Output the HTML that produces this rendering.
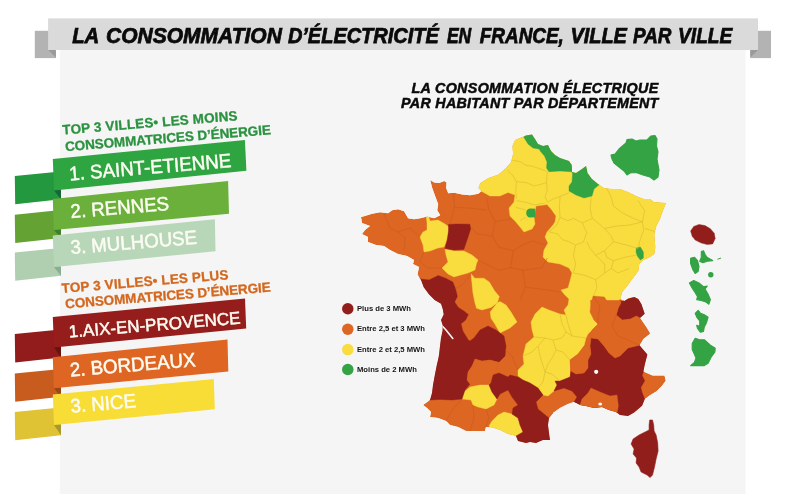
<!DOCTYPE html>
<html lang="fr"><head><meta charset="utf-8"><title>La consommation d’électricité en France, ville par ville</title>
<style>
html,body{margin:0;padding:0;background:#fff;}
body{width:800px;height:494px;overflow:hidden;font-family:"Liberation Sans",sans-serif;}
svg{display:block;}
svg text{font-family:"Liberation Sans",sans-serif;}
</style></head><body>
<svg width="800" height="494" viewBox="0 0 800 494">
<rect width="800" height="494" fill="#ffffff"/>
<rect x="59.8" y="49" width="685.7" height="445" fill="#f5f5f5"/>
<!-- title banner -->
<rect x="34.8" y="30.8" width="21.1" height="27.3" fill="#b3b3b3"/>
<polygon points="48.1,50 55.9,50 55.9,57.6" fill="#9a9a9a"/>
<rect x="750.3" y="30.8" width="20.7" height="27.3" fill="#b3b3b3"/>
<polygon points="758,50 750.3,50 750.3,57.6" fill="#9a9a9a"/>
<rect x="48.1" y="18.4" width="709.9" height="31.6" fill="#dadada"/>
<text y="42.9" font-size="21.3" font-weight="bold" font-style="italic" fill="#0a0a0a" stroke="#0a0a0a" stroke-width="0.75"><tspan x="72.2" textLength="26.3" lengthAdjust="spacingAndGlyphs">LA</tspan> <tspan x="106.0" textLength="175.9" lengthAdjust="spacingAndGlyphs">CONSOMMATION</tspan> <tspan x="287.9" textLength="150.9" lengthAdjust="spacingAndGlyphs">D’ÉLECTRICITÉ</tspan> <tspan x="446.9" textLength="24.3" lengthAdjust="spacingAndGlyphs">EN</tspan> <tspan x="479.8" textLength="84.0" lengthAdjust="spacingAndGlyphs">FRANCE,</tspan> <tspan x="570.4" textLength="56.5" lengthAdjust="spacingAndGlyphs">VILLE</tspan> <tspan x="633.0" textLength="38.4" lengthAdjust="spacingAndGlyphs">PAR</tspan> <tspan x="678.0" textLength="54.4" lengthAdjust="spacingAndGlyphs">VILLE</tspan></text>
<!-- map title -->
<g font-size="14.3" font-weight="bold" font-style="italic" fill="#0a0a0a" stroke="#0a0a0a" stroke-width="0.5" text-anchor="end" letter-spacing="0.28">
<text x="658.6" y="92.6" letter-spacing="0.34">LA CONSOMMATION ÉLECTRIQUE</text>
<text x="658.6" y="108">PAR HABITANT PAR DÉPARTEMENT</text>
</g>
<!-- least consuming cities -->
<g font-size="13.5" font-weight="bold" fill="#2b9240" stroke="#2b9240" stroke-width="0.3">
<text transform="translate(62.8 134.6) rotate(-4.7)" letter-spacing="0.15">TOP 3 VILLES• LES MOINS</text>
<text transform="translate(65.4 151.2) rotate(-4.7)" letter-spacing="-0.08">CONSOMMATRICES D’ÉNERGIE</text>
</g>
<polygon points="14.8,176.0 60.6,171.4 61.0,199.3 15.2,204.3" fill="#24983e"/>
<polygon points="53.7,190.0 61.0,189.7 61.0,199.3" fill="#17663a"/>
<polygon points="52.8,158.9 244.9,140.1 246.4,170.8 54.0,190.4" fill="#2ea541"/>
<text transform="translate(69.8 180.4) rotate(-4.7) scale(0.961,1)" font-size="19.5" fill="#fcfcf2" stroke="#fcfcf2" stroke-width="0.5">1. SAINT-ETIENNE</text>
<polygon points="14.8,214.7 60.6,210.1 61.0,238.0 15.2,243.0" fill="#64a234"/>
<polygon points="53.5,229.6 61.0,229.3 61.0,238.0" fill="#3f7f2a"/>
<polygon points="52.8,199.0 228.1,180.9 229.0,213.7 53.8,230.0" fill="#6ab03a"/>
<text transform="translate(71.0 218.1) rotate(-4.7) scale(0.961,1)" font-size="19.5" fill="#fcfcf2" stroke="#fcfcf2" stroke-width="0.5">2. RENNES</text>
<polygon points="14.8,252.5 60.6,247.9 61.0,275.8 15.2,280.8" fill="#b0ceb0"/>
<polygon points="53.7,266.7 61.0,266.4 61.0,275.8" fill="#8aae92"/>
<polygon points="52.8,235.6 214.9,219.3 215.5,251.3 54.0,267.1" fill="#b8d7b9"/>
<text transform="translate(71.0 254.1) rotate(-4.7) scale(0.961,1)" font-size="19.5" fill="#fcfcf2" stroke="#fcfcf2" stroke-width="0.5">3. MULHOUSE</text>
<!-- most consuming cities -->
<g font-size="13.5" font-weight="bold" fill="#d4681f" stroke="#d4681f" stroke-width="0.3">
<text transform="translate(62.0 293.0) rotate(-4.7)" letter-spacing="0.15">TOP 3 VILLES• LES PLUS</text>
<text transform="translate(65.6 308.5) rotate(-4.7)" letter-spacing="-0.1">CONSOMMATRICES D’ÉNERGIE</text>
</g>
<polygon points="14.8,334.1 60.6,329.5 61.0,357.4 15.2,362.4" fill="#911c1b"/>
<polygon points="53.7,347.1 61.0,346.8 61.0,357.4" fill="#69130f"/>
<polygon points="52.8,317.1 245.0,298.5 246.2,328.6 54.0,347.5" fill="#951e1d"/>
<text transform="translate(69.2 337.6) rotate(-4.7) scale(0.986,1)" font-size="17.3" fill="#fcfcf2" stroke="#fcfcf2" stroke-width="0.5">1.AIX-EN-PROVENCE</text>
<polygon points="14.8,373.5 60.6,368.9 61.0,396.8 15.2,401.8" fill="#c85c1e"/>
<polygon points="53.5,387.8 61.0,387.5 61.0,396.8" fill="#9a4718"/>
<polygon points="52.8,357.3 227.5,339.5 228.3,371.5 53.8,388.2" fill="#df6622"/>
<text transform="translate(70.4 376.5) rotate(-4.7) scale(0.961,1)" font-size="19.5" fill="#fcfcf2" stroke="#fcfcf2" stroke-width="0.5">2. BORDEAUX</text>
<polygon points="14.8,412.0 60.6,407.4 61.0,435.3 15.2,440.3" fill="#dfc334"/>
<polygon points="53.7,424.6 61.0,424.3 61.0,435.3" fill="#a8962e"/>
<polygon points="52.8,394.4 213.8,379.0 214.8,409.2 54.0,425.0" fill="#f9dd37"/>
<text transform="translate(71.0 412.7) rotate(-4.7) scale(0.961,1)" font-size="19.5" fill="#fcfcf2" stroke="#fcfcf2" stroke-width="0.5">3. NICE</text>
<!-- legend -->
<g font-size="7.65" font-weight="bold" fill="#151515">
<circle cx="347.8" cy="308.8" r="5.75" fill="#921e1b"/><text x="357" y="310.8">Plus de 3 MWh</text>
<circle cx="347.8" cy="329.2" r="5.75" fill="#dc6622"/><text x="357" y="331.2">Entre 2,5 et 3 MWh</text>
<circle cx="347.8" cy="349.6" r="5.75" fill="#f9dc3d"/><text x="357" y="351.6">Entre 2 et 2,5 MWh</text>
<circle cx="347.8" cy="369.5" r="5.75" fill="#33a343"/><text x="357" y="371.5">Moins de 2 MWh</text>
</g>
<!-- France map -->
<defs><clipPath id="fr"><polygon points="430.2,180.1 434.2,182.5 439.2,183.1 444.2,181.1 446.6,182.5 446.2,188.1 448.2,193.2 454.3,192.8 462.3,194.6 470.3,195.2 478.3,193.8 481.3,191.2 478.3,188.1 480.3,183.1 488.3,178.1 498.4,174.5 506.0,168.1 511.0,162.1 513.0,154.1 512.4,146.0 515.0,140.0 522.0,137.0 526.0,135.6 532.0,134.4 535.0,139.0 538.0,144.0 543.0,146.0 548.0,145.0 551.0,151.0 555.0,155.0 560.0,158.0 569.0,161.0 571.8,165.0 572.0,172.0 576.0,173.0 582.0,169.0 586.0,166.0 587.6,173.0 592.0,179.0 598.0,184.0 604.0,188.0 612.0,189.0 620.0,189.0 628.0,192.0 636.0,196.0 644.0,199.0 650.0,199.0 654.0,202.0 666.0,203.0 664.0,208.0 660.0,219.0 656.0,227.0 654.4,235.0 655.4,247.0 654.4,254.0 648.4,258.0 643.4,260.0 639.4,264.0 638.4,271.0 632.3,279.0 627.3,286.0 622.3,292.0 620.3,299.0 624.3,301.0 628.3,298.5 634.3,297.0 638.3,299.0 641.4,304.0 644.7,313.7 640.0,318.0 646.0,326.8 650.0,333.4 643.4,338.7 639.5,345.3 647.4,354.5 644.7,365.0 643.4,371.6 652.6,375.5 664.5,375.5 665.8,380.8 661.8,386.0 656.6,391.3 650.0,395.3 644.7,399.2 642.1,405.8 634.2,412.4 628.0,416.0 620.0,415.0 616.0,412.0 609.0,410.0 602.0,407.0 594.0,408.0 586.0,406.0 580.0,405.0 574.0,402.0 568.0,404.0 560.0,408.0 553.0,413.0 549.0,418.0 548.0,425.0 549.0,433.0 550.0,440.0 543.0,440.0 536.0,443.0 530.0,442.0 526.0,443.0 518.0,441.0 516.0,436.0 508.0,434.0 500.0,430.0 492.0,427.5 486.0,427.0 485.0,431.0 476.0,431.0 466.0,431.0 458.0,427.0 450.0,425.0 446.0,421.0 438.0,418.0 430.0,417.0 431.0,412.0 427.0,408.0 423.0,405.0 430.0,400.0 432.0,393.0 433.0,385.0 435.0,374.0 437.0,364.0 438.0,360.0 439.0,355.0 440.0,346.0 441.0,338.0 442.5,331.0 442.8,325.6 441.0,320.0 443.7,314.6 442.8,309.2 441.0,303.7 434.6,300.0 429.1,294.6 423.7,287.3 421.0,280.0 417.5,274.6 419.0,267.0 413.0,264.0 414.0,260.0 407.0,256.0 398.0,254.0 390.0,250.0 384.0,246.0 376.0,245.0 368.0,242.0 368.0,237.0 362.0,234.0 365.0,230.0 370.0,226.0 362.0,223.0 361.0,217.0 364.0,216.2 372.1,213.8 380.1,212.2 388.1,213.2 392.1,210.2 398.1,209.2 404.1,211.2 408.1,218.2 414.2,219.2 420.2,218.2 427.2,216.6 434.2,218.2 440.2,215.2 437.2,210.2 438.2,204.2 435.2,196.2 432.2,188.1"/></clipPath></defs>
<g clip-path="url(#fr)" stroke-linejoin="round">
<polygon points="430.2,180.1 434.2,182.5 439.2,183.1 444.2,181.1 446.6,182.5 446.2,188.1 448.2,193.2 454.3,192.8 462.3,194.6 470.3,195.2 478.3,193.8 481.3,191.2 478.3,188.1 480.3,183.1 488.3,178.1 498.4,174.5 506.0,168.1 511.0,162.1 513.0,154.1 512.4,146.0 515.0,140.0 522.0,137.0 526.0,135.6 532.0,134.4 535.0,139.0 538.0,144.0 543.0,146.0 548.0,145.0 551.0,151.0 555.0,155.0 560.0,158.0 569.0,161.0 571.8,165.0 572.0,172.0 576.0,173.0 582.0,169.0 586.0,166.0 587.6,173.0 592.0,179.0 598.0,184.0 604.0,188.0 612.0,189.0 620.0,189.0 628.0,192.0 636.0,196.0 644.0,199.0 650.0,199.0 654.0,202.0 666.0,203.0 664.0,208.0 660.0,219.0 656.0,227.0 654.4,235.0 655.4,247.0 654.4,254.0 648.4,258.0 643.4,260.0 639.4,264.0 638.4,271.0 632.3,279.0 627.3,286.0 622.3,292.0 620.3,299.0 624.3,301.0 628.3,298.5 634.3,297.0 638.3,299.0 641.4,304.0 644.7,313.7 640.0,318.0 646.0,326.8 650.0,333.4 643.4,338.7 639.5,345.3 647.4,354.5 644.7,365.0 643.4,371.6 652.6,375.5 664.5,375.5 665.8,380.8 661.8,386.0 656.6,391.3 650.0,395.3 644.7,399.2 642.1,405.8 634.2,412.4 628.0,416.0 620.0,415.0 616.0,412.0 609.0,410.0 602.0,407.0 594.0,408.0 586.0,406.0 580.0,405.0 574.0,402.0 568.0,404.0 560.0,408.0 553.0,413.0 549.0,418.0 548.0,425.0 549.0,433.0 550.0,440.0 543.0,440.0 536.0,443.0 530.0,442.0 526.0,443.0 518.0,441.0 516.0,436.0 508.0,434.0 500.0,430.0 492.0,427.5 486.0,427.0 485.0,431.0 476.0,431.0 466.0,431.0 458.0,427.0 450.0,425.0 446.0,421.0 438.0,418.0 430.0,417.0 431.0,412.0 427.0,408.0 423.0,405.0 430.0,400.0 432.0,393.0 433.0,385.0 435.0,374.0 437.0,364.0 438.0,360.0 439.0,355.0 440.0,346.0 441.0,338.0 442.5,331.0 442.8,325.6 441.0,320.0 443.7,314.6 442.8,309.2 441.0,303.7 434.6,300.0 429.1,294.6 423.7,287.3 421.0,280.0 417.5,274.6 419.0,267.0 413.0,264.0 414.0,260.0 407.0,256.0 398.0,254.0 390.0,250.0 384.0,246.0 376.0,245.0 368.0,242.0 368.0,237.0 362.0,234.0 365.0,230.0 370.0,226.0 362.0,223.0 361.0,217.0 364.0,216.2 372.1,213.8 380.1,212.2 388.1,213.2 392.1,210.2 398.1,209.2 404.1,211.2 408.1,218.2 414.2,219.2 420.2,218.2 427.2,216.6 434.2,218.2 440.2,215.2 437.2,210.2 438.2,204.2 435.2,196.2 432.2,188.1" fill="#dc6622"/>
<polygon points="476.0,186.0 481.3,191.2 490.0,196.0 500.0,196.0 508.0,192.5 515.0,195.0 514.0,202.0 509.0,208.0 510.0,216.0 515.0,221.0 520.0,227.0 524.0,232.0 532.0,229.0 535.0,224.0 534.0,217.0 536.0,206.0 547.0,204.6 551.0,209.0 556.0,216.0 555.0,222.0 553.0,225.0 547.0,232.0 545.0,237.0 548.0,243.0 544.0,250.0 543.0,257.0 548.0,262.0 560.0,264.0 569.0,268.0 572.0,273.0 570.0,281.0 568.0,288.0 561.0,290.0 564.0,294.0 569.0,299.0 568.0,305.0 564.0,310.0 566.0,315.0 560.0,314.0 549.0,310.0 542.0,307.0 535.0,314.0 531.0,322.0 532.0,330.0 534.0,337.0 526.0,344.0 523.0,356.0 524.0,364.0 518.0,370.0 518.0,376.0 523.0,380.0 530.0,383.0 538.0,388.0 543.0,395.0 548.0,396.0 554.0,391.0 557.0,385.0 555.0,381.0 560.0,381.0 570.0,377.0 570.0,370.0 570.0,360.0 578.0,354.0 584.0,346.0 586.0,338.0 588.0,334.0 592.0,330.0 598.0,324.0 594.0,320.0 591.0,308.0 590.0,300.0 640.0,300.0 680.0,260.0 680.0,120.0 500.0,120.0 470.0,180.0" fill="#f9dc3d" stroke="#f9dc3d" stroke-width="0.4"/>
<polygon points="428.0,214.0 430.0,221.0 438.0,220.0 445.0,224.0 449.0,227.0 448.0,237.0 444.0,247.0 438.0,248.0 430.0,251.0 424.0,252.0 423.0,245.0 420.0,237.0 423.0,232.0 427.0,230.0 427.0,223.0 426.0,214.0" fill="#f9dc3d" stroke="#f9dc3d" stroke-width="0.4"/>
<polygon points="445.0,249.0 454.0,251.0 464.0,251.0 472.0,255.0 478.0,260.0 476.5,263.6 475.0,270.0 468.0,273.0 459.0,275.5 454.0,277.0 448.0,274.0 442.0,268.0 448.0,262.0 446.0,255.0" fill="#f9dc3d" stroke="#f9dc3d" stroke-width="0.4"/>
<polygon points="471.0,273.7 474.7,278.2 483.8,278.2 489.3,281.9 494.7,291.0 499.3,296.4 497.4,302.8 491.1,307.4 482.0,310.0 476.5,308.3 474.7,301.9 472.9,292.8 472.0,283.7" fill="#f9dc3d" stroke="#f9dc3d" stroke-width="0.4"/>
<polygon points="500.0,301.5 506.0,305.0 511.0,312.0 517.0,322.0 510.0,328.0 500.0,333.0 494.7,323.8 491.0,318.3 490.2,311.9 493.0,308.3 497.4,302.8" fill="#f9dc3d" stroke="#f9dc3d" stroke-width="0.4"/>
<polygon points="462.0,399.0 464.0,392.0 470.0,387.0 480.0,385.0 489.0,385.0 492.0,392.0 497.0,399.0 494.0,405.0 486.0,409.0 478.0,407.0 473.0,405.0 471.0,400.0" fill="#f9dc3d" stroke="#f9dc3d" stroke-width="0.4"/>
<polygon points="489.0,426.0 492.0,421.0 498.0,415.0 504.0,412.0 512.0,414.0 518.0,418.0 520.0,425.0 523.0,432.0 516.0,438.0 508.0,436.0 500.0,432.0 492.0,429.5" fill="#f9dc3d" stroke="#f9dc3d" stroke-width="0.4"/>
<polygon points="448.5,224.5 456.0,224.0 469.8,224.2 470.6,229.0 467.4,239.0 463.8,249.5 454.0,250.0 445.0,248.5 447.0,241.0 448.5,231.0" fill="#921e1b" stroke="#921e1b" stroke-width="0.4"/>
<polygon points="410.0,270.0 421.0,279.0 429.0,280.0 438.3,275.5 445.5,278.2 452.8,281.9 455.6,289.1 457.4,296.4 454.6,301.9 458.3,307.4 463.8,311.0 468.3,314.6 465.6,320.1 461.0,323.8 462.8,331.0 468.3,340.1 470.0,341.0 474.0,338.0 480.0,330.0 488.0,326.0 496.0,330.0 504.0,336.0 506.0,346.0 505.0,356.0 499.0,362.0 490.0,360.0 482.0,361.0 475.0,359.0 472.0,366.0 468.0,372.0 467.0,380.0 470.0,384.0 465.0,390.0 462.0,399.0 452.0,400.0 440.0,399.4 430.0,400.0 420.0,402.0 420.0,300.0" fill="#921e1b" stroke="#921e1b" stroke-width="0.4"/>
<polygon points="493.0,375.0 499.0,373.0 508.0,377.0 510.0,375.0 518.0,377.0 523.0,380.0 530.0,383.0 538.0,388.0 543.0,395.0 536.0,402.0 538.0,409.0 544.0,414.0 549.0,418.0 553.0,413.0 560.0,450.0 515.0,450.0 516.0,436.0 523.0,432.0 520.0,425.0 518.0,418.0 512.0,414.0 513.0,408.0 518.0,405.0 512.0,397.0 508.0,390.0 500.0,394.0 497.0,399.0 492.0,392.0 489.0,385.0 491.0,383.0" fill="#921e1b" stroke="#921e1b" stroke-width="0.4"/>
<polygon points="591.0,338.0 598.0,339.0 604.0,346.0 609.0,353.0 615.0,358.0 620.0,356.0 628.0,348.0 640.0,345.0 660.0,345.0 660.0,371.0 643.4,371.6 642.1,375.5 644.7,380.8 640.8,387.4 642.1,392.6 644.7,399.2 650.0,420.0 600.0,420.0 580.0,405.0 574.0,402.0 577.0,397.0 572.0,391.0 564.0,388.0 554.0,391.0 557.0,385.0 555.0,381.0 560.0,381.0 570.0,377.0 571.0,371.0 576.0,374.0 584.0,373.0 588.0,368.0 588.0,360.0 591.0,354.0 590.0,346.0" fill="#921e1b" stroke="#921e1b" stroke-width="0.4"/>
<polygon points="618.3,308.0 616.3,315.0 622.3,320.0 630.3,319.0 636.3,316.0 640.0,318.0 650.0,314.0 650.0,295.0 626.0,295.0 623.0,301.5 620.5,300.5" fill="#921e1b" stroke="#921e1b" stroke-width="0.4"/>
<polygon points="593.2,296.0 604.3,297.0 608.3,303.0 617.3,303.0 620.3,299.0 621.0,303.0 618.3,308.0 616.3,315.0 622.3,320.0 630.3,319.0 636.3,316.0 640.0,318.0 646.0,326.8 652.0,333.4 643.4,338.7 639.5,345.3 628.0,348.0 620.0,356.0 615.0,358.0 609.0,353.0 604.0,346.0 598.0,339.0 591.0,338.0 592.0,330.0 598.0,324.0 594.0,320.0 590.0,312.0 591.0,303.0" fill="#dc6622" stroke="#dc6622" stroke-width="0.4"/>
<polygon points="590.0,340.0 584.0,346.0 578.0,354.0 570.0,360.0 571.0,371.0 576.0,374.0 584.0,373.0 588.0,368.0 588.0,360.0 591.0,354.0 590.0,346.0 591.0,338.0" fill="#dc6622" stroke="#dc6622" stroke-width="0.4"/>
<polygon points="580.0,405.0 582.0,399.0 588.0,393.0 591.0,388.0 600.0,392.0 610.0,396.0 617.0,395.0 618.4,405.8 617.0,413.0 600.0,412.0" fill="#dc6622" stroke="#dc6622" stroke-width="0.4"/>
<polygon points="475.0,359.0 482.0,361.0 490.0,360.0 499.0,362.5 496.0,370.0 492.0,376.0 490.0,383.0 480.0,384.0 470.0,384.0 467.0,380.0 468.0,372.0 472.0,366.0" fill="#dc6622" stroke="#dc6622" stroke-width="0.4"/>
<polygon points="523.7,137.0 532.0,130.0 575.0,160.0 571.8,171.7 560.0,171.0 549.0,171.7 546.5,168.0 547.0,162.0 544.5,156.0 541.0,152.0 539.0,149.0 533.0,148.0 528.0,144.0" fill="#33a343" stroke="#33a343" stroke-width="0.4"/>
<polygon points="586.0,160.0 587.6,173.0 592.0,179.0 600.0,184.0 594.0,189.0 592.0,196.0 584.0,198.0 576.0,195.0 569.0,191.0 569.0,186.0 572.0,182.0 572.6,173.7 570.0,168.0" fill="#33a343" stroke="#33a343" stroke-width="0.4"/>
<polygon points="636.3,248.0 640.3,247.0 643.4,252.0 643.4,258.0 640.3,260.0 637.3,256.0 636.0,252.0" fill="#33a343" stroke="#33a343" stroke-width="0.4"/>
<polyline points="486.4,197.3 488.9,209.4 494.9,221.6 492.5,236.2 498.6,247.1" fill="none" stroke="#c9591c" stroke-width="0.5"/>
<polyline points="494.9,221.6 510.7,219.1" fill="none" stroke="#c9591c" stroke-width="0.5"/>
<polyline points="492.5,236.2 476.7,233.7 470.6,226.4" fill="none" stroke="#c9591c" stroke-width="0.5"/>
<polyline points="498.6,247.1 513.2,250.7 522.9,244.7 532.6,241.0 544.7,244.7" fill="none" stroke="#c9591c" stroke-width="0.5"/>
<polyline points="513.2,250.7 510.7,267.7 498.6,270.2 479.1,260.4" fill="none" stroke="#c9591c" stroke-width="0.5"/>
<polyline points="510.7,267.7 522.9,270.2 525.3,287.2 520.4,299.3" fill="none" stroke="#c9591c" stroke-width="0.5"/>
<polyline points="522.9,270.2 542.3,267.7 547.2,258.0" fill="none" stroke="#c9591c" stroke-width="0.5"/>
<polyline points="525.3,287.2 544.7,289.6 559.3,292.0" fill="none" stroke="#c9591c" stroke-width="0.5"/>
<polyline points="453.4,193.9 454.5,207.3 450.0,224.0" fill="none" stroke="#c9591c" stroke-width="0.5"/>
<polyline points="454.5,207.3 470.0,208.0 486.0,210.0" fill="none" stroke="#c9591c" stroke-width="0.5"/>
<polyline points="398.0,232.0 405.0,238.0 404.0,250.0" fill="none" stroke="#c9591c" stroke-width="0.5"/>
<polyline points="384.0,214.0 390.0,228.0 398.0,232.0 410.0,228.0 420.0,237.0" fill="none" stroke="#c9591c" stroke-width="0.5"/>
<polyline points="424.0,252.0 420.0,262.0 428.0,268.0 442.0,268.0" fill="none" stroke="#c9591c" stroke-width="0.5"/>
<polyline points="455.0,289.0 463.0,284.0 471.0,274.0" fill="none" stroke="#c9591c" stroke-width="0.5"/>
<polyline points="505.0,350.0 512.0,356.0 518.0,370.0" fill="none" stroke="#c9591c" stroke-width="0.5"/>
<polyline points="446.0,421.0 452.0,410.0 462.0,399.0" fill="none" stroke="#c9591c" stroke-width="0.5"/>
<polyline points="470.0,431.0 474.0,418.0 473.0,405.0" fill="none" stroke="#c9591c" stroke-width="0.5"/>
<polyline points="486.0,427.0 489.0,418.0 486.0,409.0" fill="none" stroke="#c9591c" stroke-width="0.5"/>
<polyline points="593.2,296.0 600.0,306.0 598.0,318.0 598.0,324.0" fill="none" stroke="#c9591c" stroke-width="0.5"/>
<polyline points="616.3,315.0 612.0,326.0 618.0,336.0 628.0,340.0 639.5,345.3" fill="none" stroke="#c9591c" stroke-width="0.5"/>
<polyline points="512.0,160.1 520.7,161.8 525.8,165.3 531.8,166.1 539.6,168.7 546.5,171.3" fill="none" stroke="#d6b82f" stroke-width="0.55"/>
<polyline points="507.7,170.4 512.9,175.6 516.4,181.6 525.8,182.5 534.4,185.9 541.3,184.2 546.5,182.5" fill="none" stroke="#d6b82f" stroke-width="0.55"/>
<polyline points="547.3,171.3 546.5,182.5 547.3,190.2 545.1,197.1 547.3,202.3" fill="none" stroke="#d6b82f" stroke-width="0.55"/>
<polyline points="516.4,181.6 515.8,192.0 516.4,198.8" fill="none" stroke="#d6b82f" stroke-width="0.55"/>
<polyline points="516.4,200.6 525.8,202.3 534.4,204.9 544.8,203.1" fill="none" stroke="#d6b82f" stroke-width="0.55"/>
<polyline points="547.3,202.3 553.4,198.8 560.2,196.3 568.8,192.8" fill="none" stroke="#d6b82f" stroke-width="0.55"/>
<polyline points="560.2,196.3 559.4,205.7 560.0,217.3 556.7,225.1 548.9,231.8" fill="none" stroke="#d6b82f" stroke-width="0.55"/>
<polyline points="591.2,197.3 590.1,208.4 592.3,218.4 597.9,222.9 604.6,228.5" fill="none" stroke="#d6b82f" stroke-width="0.55"/>
<polyline points="560.0,217.3 567.8,220.7 573.4,218.4 582.3,222.9 592.3,218.4" fill="none" stroke="#d6b82f" stroke-width="0.55"/>
<polyline points="582.3,222.9 586.8,232.9 583.4,241.8 575.6,245.2 569.0,241.8 562.3,239.6 557.8,234.0 548.9,231.8" fill="none" stroke="#d6b82f" stroke-width="0.55"/>
<polyline points="575.6,245.2 573.4,255.2 575.6,264.1 573.4,273.0" fill="none" stroke="#d6b82f" stroke-width="0.55"/>
<polyline points="604.6,228.5 611.3,236.2 613.5,241.8 604.6,250.7 595.7,255.2 590.1,248.5 586.8,241.8" fill="none" stroke="#d6b82f" stroke-width="0.55"/>
<polyline points="606.8,188.4 611.3,197.3 613.5,206.2 622.4,212.9 633.5,218.4 642.4,221.8" fill="none" stroke="#d6b82f" stroke-width="0.55"/>
<polyline points="638.0,200.6 644.7,210.6 642.4,221.8" fill="none" stroke="#d6b82f" stroke-width="0.55"/>
<polyline points="604.6,228.5 615.7,226.2 629.1,225.1 642.4,221.8 643.6,230.7 640.2,239.6 638.0,248.5" fill="none" stroke="#d6b82f" stroke-width="0.55"/>
<polyline points="613.5,241.8 622.4,244.0 631.3,246.3 638.0,248.5" fill="none" stroke="#d6b82f" stroke-width="0.55"/>
<polyline points="604.6,250.7 606.8,257.4 613.5,260.7 624.6,257.4 635.8,255.2" fill="none" stroke="#d6b82f" stroke-width="0.55"/>
<polyline points="644.7,228.5 655.8,231.8" fill="none" stroke="#d6b82f" stroke-width="0.55"/>
<polyline points="613.5,260.7 611.3,268.5 618.0,273.0 629.1,268.5" fill="none" stroke="#d6b82f" stroke-width="0.55"/>
<polyline points="573.4,273.0 584.5,275.2 595.7,279.7 604.6,273.0 611.3,268.5" fill="none" stroke="#d6b82f" stroke-width="0.55"/>
<polyline points="595.7,255.2 604.6,264.1 604.6,273.0" fill="none" stroke="#d6b82f" stroke-width="0.55"/>
<polyline points="595.7,279.7 597.0,288.0 593.2,296.0" fill="none" stroke="#d6b82f" stroke-width="0.55"/>
<polyline points="515.7,207.3 525.7,210.0" fill="none" stroke="#d6b82f" stroke-width="0.55"/>
<polyline points="525.7,217.3 520.2,220.6" fill="none" stroke="#d6b82f" stroke-width="0.55"/>
<polyline points="560.0,314.0 562.0,324.0 566.0,332.0 572.0,336.0 586.0,338.0" fill="none" stroke="#d6b82f" stroke-width="0.55"/>
<polyline points="566.0,315.0 568.0,324.0 572.0,336.0" fill="none" stroke="#d6b82f" stroke-width="0.55"/>
<polyline points="534.0,337.0 545.0,338.0 553.0,340.0 562.0,338.0 566.0,332.0" fill="none" stroke="#d6b82f" stroke-width="0.55"/>
<polyline points="553.0,340.0 556.0,350.0 552.0,358.0 548.0,364.0 545.0,372.0" fill="none" stroke="#d6b82f" stroke-width="0.55"/>
<polyline points="556.0,350.0 563.0,352.0 570.0,360.0" fill="none" stroke="#d6b82f" stroke-width="0.55"/>
<polyline points="523.0,356.0 532.0,352.0 538.0,346.0 545.0,338.0" fill="none" stroke="#d6b82f" stroke-width="0.55"/>
<polyline points="538.0,346.0 540.0,356.0 545.0,372.0 543.0,382.0 538.0,388.0" fill="none" stroke="#d6b82f" stroke-width="0.55"/>
<polyline points="545.0,372.0 552.0,374.0 560.0,381.0" fill="none" stroke="#d6b82f" stroke-width="0.55"/>
<path d="M526.2,213 Q526,208.6 531,208.4 L535.2,208.8 L535,217.2 L529.5,217.4 Q526.4,216.8 526.2,213 Z" fill="#33a343"/>
<polyline points="442.8,326.5 446.0,330.0 450.0,335.0 452.8,338.5" fill="none" stroke="#f5f5f5" stroke-width="1.6" stroke-linecap="round"/>
<circle cx="596.2" cy="371.8" r="2.1" fill="#fff"/>
<ellipse cx="600.2" cy="404" rx="1.9" ry="1.5" fill="#fff"/>
</g>
<polygon points="649.7,420.0 652.5,420.0 653.7,425.0 654.1,431.0 656.1,435.0 657.7,443.0 658.1,451.0 656.1,459.0 654.5,467.0 652.5,475.0 650.1,477.6 647.1,475.0 641.1,472.0 639.1,467.0 636.1,463.0 636.5,458.0 633.1,454.0 634.1,449.0 631.1,444.0 633.1,439.0 639.1,435.0 645.1,432.0 649.1,430.0 649.1,425.0" fill="#921e1b" stroke="#921e1b" stroke-width="0.6" stroke-linejoin="round"/>
<polygon points="611.0,155.1 615.0,154.0 619.0,149.0 626.0,143.0 627.0,139.6 632.0,139.0 636.0,141.0 640.0,140.0 647.0,140.0 651.0,136.0 655.0,135.6 657.0,139.0 656.5,146.0 658.0,152.0 657.0,159.0 659.0,170.0 658.0,177.0 654.0,180.0 650.0,177.0 643.0,175.0 636.0,172.5 630.0,173.0 627.0,175.0 624.0,171.0 619.0,167.0 614.0,163.0 612.0,159.0" fill="#33a343" stroke="#33a343" stroke-width="1.1" stroke-linejoin="round"/>
<polygon points="690.6,231.0 693.7,226.4 699.0,224.4 705.0,225.6 710.4,228.7 714.2,233.2 715.2,238.5 712.7,243.9 707.3,244.6 701.3,243.1 695.2,240.1 692.2,236.3" fill="#921e1b" stroke="#921e1b" stroke-width="0.4" stroke-linejoin="round"/>
<polygon points="690.6,258.3 694.4,257.2 697.5,260.6 699.0,266.6 698.2,271.2 695.2,273.5 692.9,269.7 690.6,263.6" fill="#33a343" stroke="#33a343" stroke-width="1.1" stroke-linejoin="round"/>
<polygon points="701.3,251.5 703.5,250.7 705.1,254.5 707.3,257.5 712.7,260.6 707.3,261.3 702.8,262.8 699.7,261.3 701.3,257.5" fill="#33a343" stroke="#33a343" stroke-width="1.1" stroke-linejoin="round"/>
<circle cx="710.8" cy="274.7" r="2.7" fill="#33a343"/>
<line x1="717.5" y1="259.3" x2="721" y2="258" stroke="#33a343" stroke-width="1"/>
<polygon points="689.4,282.9 693.7,280.6 699.0,282.9 703.5,286.7 707.3,286.0 705.1,289.0 708.1,294.3 710.4,299.6 708.9,304.2 705.8,301.9 701.3,300.4 696.7,299.6 697.5,296.6 695.2,292.8 692.2,288.2" fill="#33a343" stroke="#33a343" stroke-width="1.1" stroke-linejoin="round"/>
<polygon points="695.2,313.3 698.2,310.3 700.5,313.3 704.3,314.8 708.1,317.1 706.6,322.4 704.3,327.0 703.5,331.5 700.5,332.3 697.5,328.5 696.7,325.4 699.7,326.2 699.7,320.9 696.7,317.1" fill="#33a343" stroke="#33a343" stroke-width="1.1" stroke-linejoin="round"/>
<polygon points="695.2,338.2 699.7,339.7 704.3,339.7 710.4,345.1 715.2,348.1 714.9,351.9 711.1,357.2 708.1,363.3 704.3,365.6 694.4,365.6 690.6,365.6 694.4,362.5 696.0,358.0 694.4,354.2 692.2,349.6 692.2,343.5" fill="#33a343" stroke="#33a343" stroke-width="1.1" stroke-linejoin="round"/>
</svg>
</body></html>
